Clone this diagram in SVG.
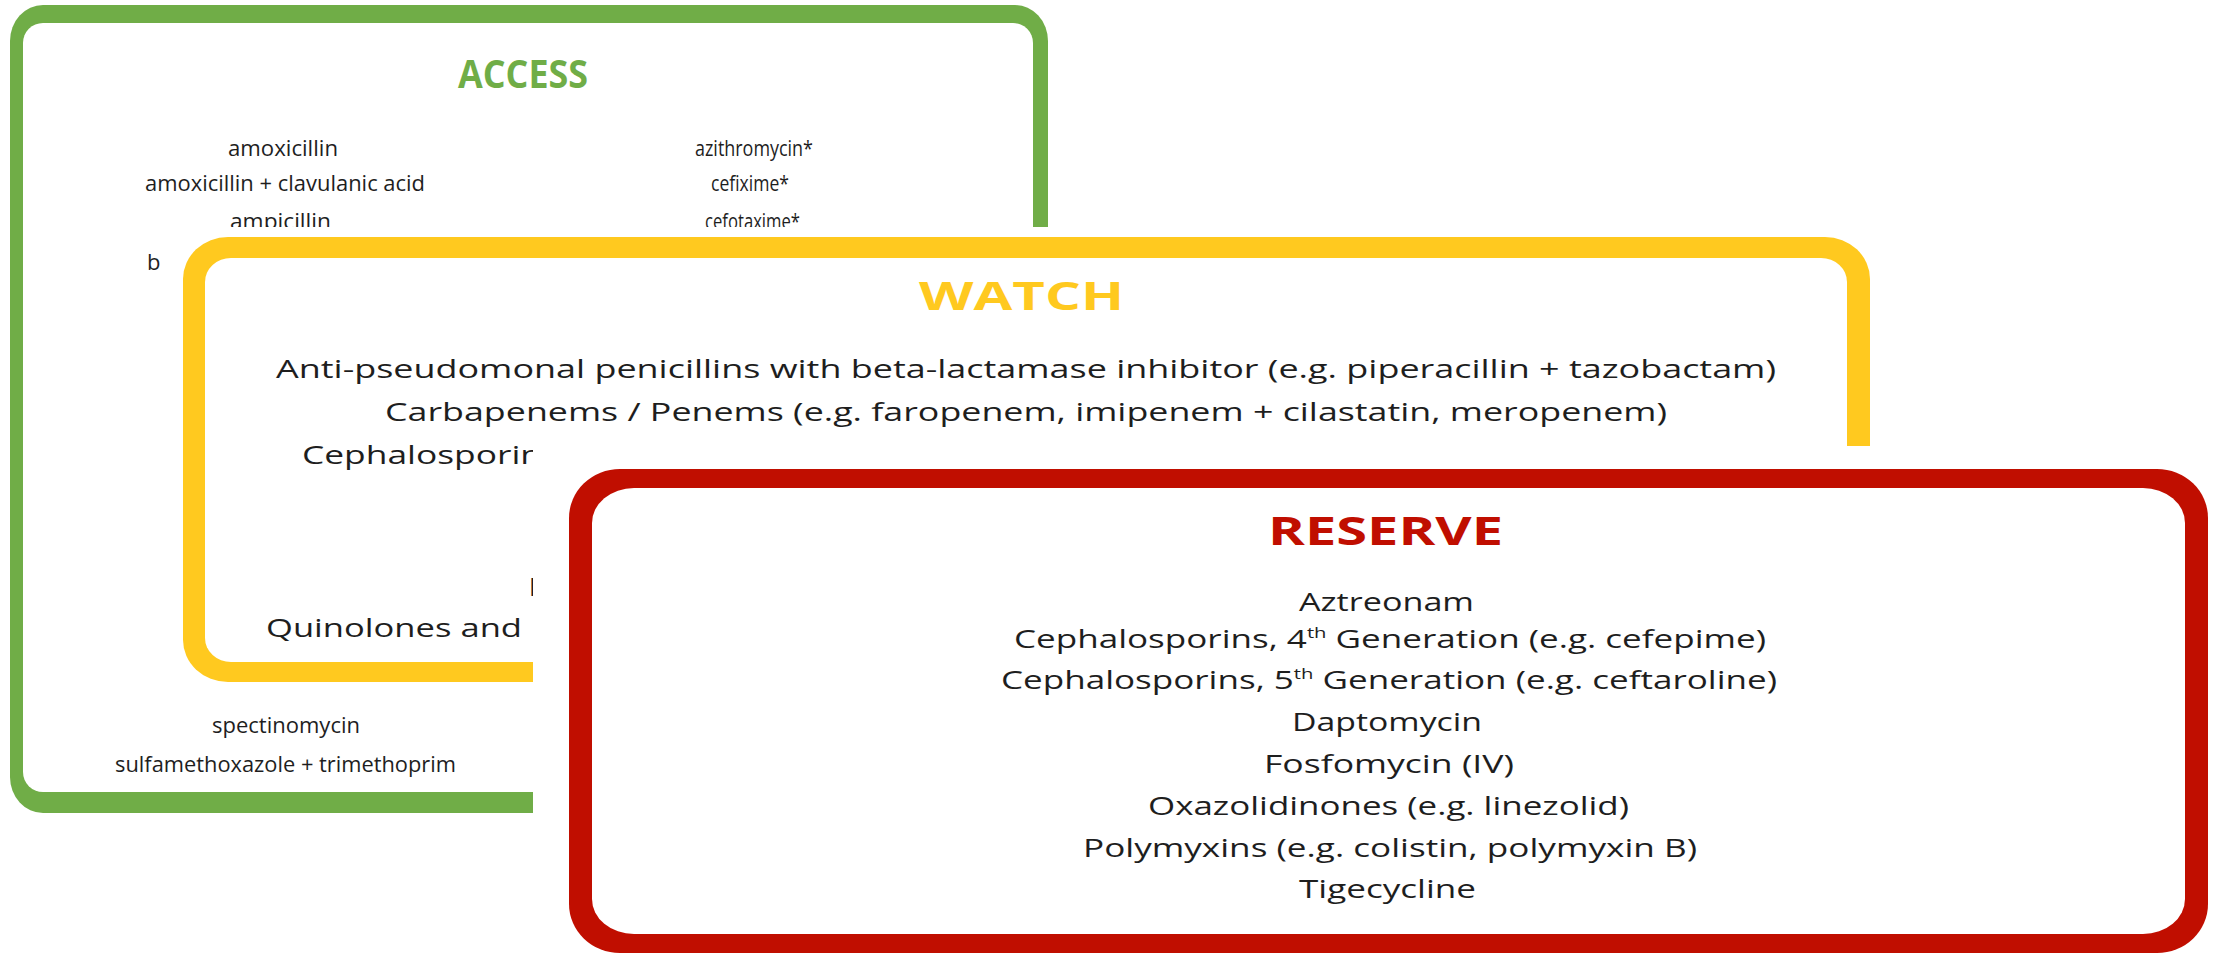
<svg xmlns="http://www.w3.org/2000/svg" width="2216" height="959" viewBox="0 0 2216 959">
<style>
.t{font-family:"Open Sans","Liberation Sans",sans-serif;fill:#1e1e1e}
.g{font-size:22px}
.w{font-size:25px}
.r{font-size:26px}
.h{font-family:"Open Sans","Liberation Sans",sans-serif;font-weight:bold;font-size:40px}
</style>
<defs>
<clipPath id="clipAccess"><path d="M0 0H2216V227H162V700H533V959H0Z"/></clipPath>
<clipPath id="clipWatch"><path d="M0 0H2216V446H533V959H0Z"/></clipPath>
</defs>
<rect x="0" y="0" width="2216" height="959" fill="#ffffff"/>
<g id="access" clip-path="url(#clipAccess)">
<rect x="10" y="5" width="1038" height="808" rx="33" ry="36" fill="#70AD47"/>
<rect x="23" y="23" width="1010" height="769" rx="20" ry="20" fill="#ffffff"/>
<text class="h" x="458" y="88" fill="#70AD47" textLength="130" lengthAdjust="spacingAndGlyphs">ACCESS</text>
<text class="t g" x="228" y="156" textLength="110" lengthAdjust="spacingAndGlyphs">amoxicillin</text>
<text class="t g" x="145" y="191" textLength="280" lengthAdjust="spacingAndGlyphs">amoxicillin + clavulanic acid</text>
<text class="t g" x="230" y="229" textLength="101" lengthAdjust="spacingAndGlyphs">ampicillin</text>
<text class="t g" x="147" y="270">b</text>
<text class="t g" x="695" y="156" textLength="118" lengthAdjust="spacingAndGlyphs">azithromycin*</text>
<text class="t g" x="711" y="191" textLength="78" lengthAdjust="spacingAndGlyphs">cefixime*</text>
<text class="t g" x="705" y="229" textLength="95" lengthAdjust="spacingAndGlyphs">cefotaxime*</text>
<text class="t g" x="212" y="733" textLength="148" lengthAdjust="spacingAndGlyphs">spectinomycin</text>
<text class="t g" x="115" y="772" textLength="341" lengthAdjust="spacingAndGlyphs">sulfamethoxazole + trimethoprim</text>
</g>
<g id="watch" clip-path="url(#clipWatch)">
<rect x="183" y="237" width="1687" height="445" rx="45" ry="42" fill="#FFC91F"/>
<rect x="205" y="258" width="1642" height="404" rx="26" ry="24" fill="#ffffff"/>
<text class="h" x="919" y="310" fill="#FFC91F" textLength="205" lengthAdjust="spacingAndGlyphs">WATCH</text>
<text class="t w" x="276" y="378" textLength="1500" lengthAdjust="spacingAndGlyphs">Anti-pseudomonal penicillins with beta-lactamase inhibitor (e.g. piperacillin + tazobactam)</text>
<text class="t w" x="385" y="421" textLength="1282" lengthAdjust="spacingAndGlyphs">Carbapenems / Penems (e.g. faropenem, imipenem + cilastatin, meropenem)</text>
<text class="t w" x="302" y="464" textLength="240" lengthAdjust="spacingAndGlyphs">Cephalosporin</text>
<text class="t w" x="529" y="596">M</text>
<text class="t w" x="266" y="637" textLength="256" lengthAdjust="spacingAndGlyphs">Quinolones and</text>
</g>
<g id="reserve">
<rect x="569" y="469" width="1639" height="484" rx="51" ry="49" fill="#C00E00"/>
<rect x="592" y="488" width="1593" height="446" rx="42" ry="35" fill="#ffffff"/>
<text class="h" x="1268" y="545" fill="#C00E00" textLength="235" lengthAdjust="spacingAndGlyphs">RESERVE</text>
<text class="t r" x="1299" y="611" textLength="175" lengthAdjust="spacingAndGlyphs">Aztreonam</text>
<text class="t r" x="1014" y="648" textLength="752" lengthAdjust="spacingAndGlyphs">Cephalosporins, 4<tspan dy="-10" font-size="15">th</tspan><tspan dy="10"> Generation (e.g. cefepime)</tspan></text>
<text class="t r" x="1001" y="689" textLength="776" lengthAdjust="spacingAndGlyphs">Cephalosporins, 5<tspan dy="-10" font-size="15">th</tspan><tspan dy="10"> Generation (e.g. ceftaroline)</tspan></text>
<text class="t r" x="1292" y="731" textLength="190" lengthAdjust="spacingAndGlyphs">Daptomycin</text>
<text class="t r" x="1264" y="773" textLength="250" lengthAdjust="spacingAndGlyphs">Fosfomycin (IV)</text>
<text class="t r" x="1148" y="815" textLength="481" lengthAdjust="spacingAndGlyphs">Oxazolidinones (e.g. linezolid)</text>
<text class="t r" x="1083" y="857" textLength="614" lengthAdjust="spacingAndGlyphs">Polymyxins (e.g. colistin, polymyxin B)</text>
<text class="t r" x="1299" y="898" textLength="177" lengthAdjust="spacingAndGlyphs">Tigecycline</text>
</g>
<g id="connectors"/>
</svg>
